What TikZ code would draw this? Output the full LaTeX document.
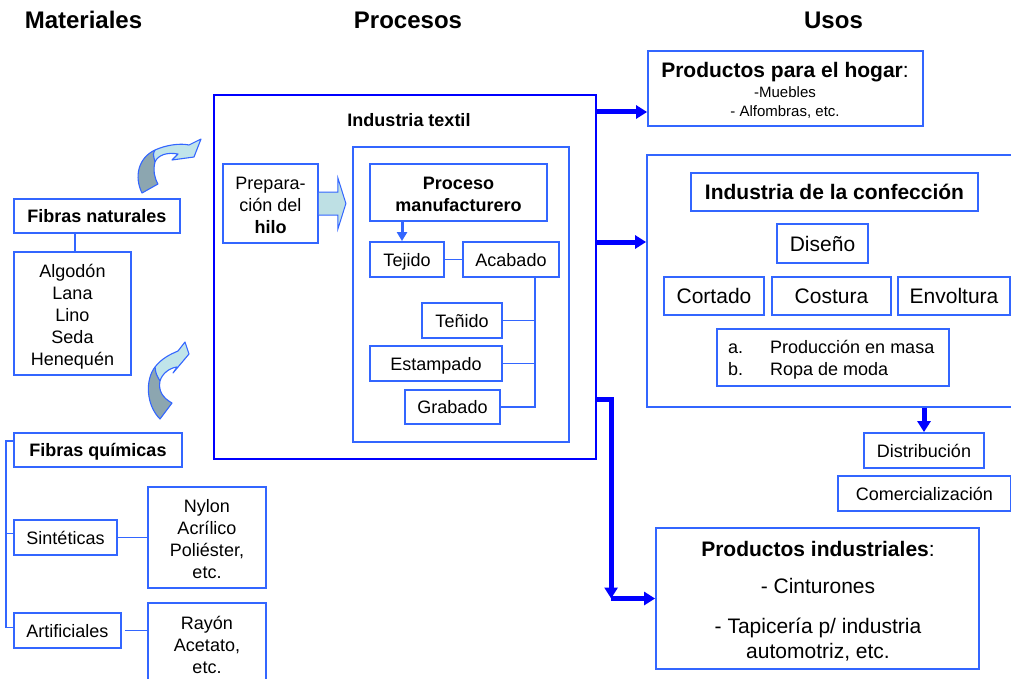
\documentclass[tikz,border=0pt]{standalone}
\usepackage{fontspec}
\setmainfont{Liberation Sans}
\usetikzlibrary{arrows.meta,calc}
\definecolor{bbox}{RGB}{51,102,255}
\definecolor{dblue}{RGB}{0,0,255}
\definecolor{lcyan}{RGB}{192,228,234}
\definecolor{dgray}{RGB}{140,166,176}
\definecolor{acyan}{RGB}{190,224,228}
\newcommand{\myfsa}{\fontsize{18}{22}\selectfont}
\newcommand{\myfsb}{\fontsize{21}{25}\selectfont}
\newcommand{\myfsc}{\fontsize{15}{18}\selectfont}
\newcommand{\myfst}{\fontsize{24}{29}\selectfont}
\def\curveAfull{(142,193) .. controls (134,177) and (138,158) .. (155,150) .. controls (166,145) and (180,143) .. (189,145) -- (201,139) -- (194,157) -- (172,160) -- (178,154) .. controls (167,152) and (158,155) .. (155,162) .. controls (153,170) and (154,177) .. (158,184) -- cycle}
\def\curveAdark{(142,193) .. controls (134,177) and (138,158) .. (155,150) .. controls (153,154) .. (155,162) .. controls (153,170) and (154,177) .. (158,184) -- cycle}
\def\curveBfull{(160,419) .. controls (146,405) and (145,380) .. (155,367) .. controls (162,358) and (171,354) .. (178,351) -- (185,342) -- (189,354) -- (173,373) -- (177,367) .. controls (169,368) and (162,374) .. (160,381) .. controls (158,391) and (163,398) .. (172,403) -- cycle}
\def\curveBdark{(160,419) .. controls (146,405) and (145,380) .. (155,367) .. controls (156,374) .. (160,381) .. controls (158,391) and (163,398) .. (172,403) -- cycle}
\begin{document}
\begin{tikzpicture}[x=1pt,y=-1pt,
  box/.style={draw=bbox, line width=1.8pt, inner sep=0pt, align=center, font=\myfsa},
  sbox/.style={box, text height=18pt, text depth=5pt},
  sboxb/.style={box, font=\myfsb, text height=21pt, text depth=6pt},
  mtxt/.style={inner sep=0pt, align=center, font=\myfsa},
  lnk/.style={draw=bbox, line width=1.8pt},
  thickarrow/.style={draw=dblue, line width=5pt, line join=miter, -{Triangle[length=11pt,width=13pt]}},
  txt/.style={inner sep=0pt, anchor=base},
  title/.style={txt, font=\myfst\bfseries},
  curveout/.style={draw=bbox, line width=1.1pt, line join=round}
]
\useasboundingbox (0,0) rectangle (1011,679);

% titles
\node[title] (tmat) at (83.5,29) {Materiales};
\node[title] (tpro) at (408,29) {Procesos};
\node[title] (tuso) at (833.5,29) {Usos};

% ---------- Materiales ----------
\node[sbox, minimum width=166, minimum height=34] (fnat) at (97,216) {\bfseries Fibras naturales};
\node[box, minimum width=117, minimum height=123] (fnlist) at (72.5,313.5) {};
\node[mtxt] (fnlistt) at ([yshift=-3.5pt]fnlist.center) {Algodón\\Lana\\Lino\\Seda\\Henequén};
\draw[lnk] ([xshift=2.5pt]fnlist.north) -- ([xshift=2.5pt]fnlist.north |- fnat.south);

\node[sbox, minimum width=168, minimum height=34] (fquim) at (98,450) {\bfseries Fibras químicas};
\node[sbox, minimum width=103, minimum height=35] (sint) at (65.5,537.5) {Sintéticas};
\node[sbox, minimum width=107, minimum height=35] (artif) at (67.5,630.5) {Artificiales};
\coordinate (bus) at (6,0);
\draw[lnk] ([yshift=9pt]fquim.west) -- ([yshift=9pt]fquim.west -| bus) -- ([yshift=3pt]artif.west -| bus) -- ([yshift=3pt]artif.west);
\draw[lnk] ([yshift=4pt]sint.west) -- ([yshift=4pt]sint.west -| bus);

\node[box, minimum width=118, minimum height=101] (nylon) at (207,537.5) {};
\node[mtxt] (nylont) at ([yshift=-2pt]nylon.center) {Nylon\\Acrílico\\Poliéster,\\etc.};
\node[box, minimum width=118, minimum height=87] (rayon) at (207,646.5) {};
\node[mtxt] (rayont) at ([yshift=2pt]rayon.center) {Rayón\\Acetato,\\etc.};
\draw[lnk] (sint.east) -- (nylon.west |- sint.east);
\draw[lnk] ([xshift=3pt]artif.east) -- (rayon.west |- artif.east);

% curved arrows
\fill[lcyan] \curveAfull;
\fill[dgray] \curveAdark;
\draw[curveout] \curveAfull;
\draw[curveout] (155,150) .. controls (153,154) .. (155,162);
\fill[lcyan] \curveBfull;
\fill[dgray] \curveBdark;
\draw[curveout] \curveBfull;
\draw[curveout] (155,367) .. controls (156,374) .. (160,381);

% ---------- Procesos ----------
\node[draw=dblue, line width=2.4pt, minimum width=382, minimum height=364, inner sep=0pt] (outer) at (405,277) {};
\node[txt, font=\myfsa\bfseries] (tind) at (409,127) {Industria textil};
\node[box, minimum width=216, minimum height=295] (inner) at (461,294.5) {};
\node[box, minimum width=95, minimum height=79] (prep) at (270.5,203.5) {};
\node[mtxt] (prept) at ([yshift=-2pt]prep.center) {Prepara-\\ción del\\\textbf{hilo}};
\filldraw[fill=acyan, draw=bbox, line width=1pt, line join=miter]
  ($(prep.east)+(0,-11.5)$) -- ++(19,0) -- ++(0,-14) -- ($(prep.east)+(27,0)$)
  -- ($(prep.east)+(19,25.5)$) -- ++(0,-14) -- ($(prep.east)+(0,11.5)$);
\node[box, minimum width=177, minimum height=57] (proc) at (458.5,192.5) {};
\node[mtxt, font=\myfsa\bfseries] (proct) at ([yshift=-2pt]proc.center) {Proceso\\manufacturero};
\node[sbox, minimum width=74, minimum height=35] (tejido) at (407,259.5) {Tejido};
\node[sbox, minimum width=96, minimum height=35] (acabado) at (511,259.5) {Acabado};
\node[sbox, minimum width=80, minimum height=35] (tenido) at (462,320.5) {Teñido};
\node[sbox, minimum width=132, minimum height=35] (estamp) at (436,363.5) {Estampado};
\node[sbox, minimum width=95, minimum height=34] (grabado) at (452.5,407) {Grabado};
\coordinate (sa) at (402,0);
\draw[draw=bbox, line width=3pt, -{Triangle[length=9pt,width=10pt]}] (proc.south -| sa) -- (tejido.north -| sa);
\draw[lnk] (tejido) -- (acabado);
\coordinate (vb) at (535,407);
\draw[lnk] (acabado.south -| vb) -- (vb) -- (grabado.east);
\draw[lnk] (tenido.east) -- (tenido.east -| vb);
\draw[lnk] (estamp.east) -- (estamp.east -| vb);

% ---------- Usos ----------
\node[box, minimum width=275, minimum height=75] (hogar) at (785.5,88.5) {};
\node[txt, font=\myfsb] (hogt) at (785,78) {\textbf{Productos para el hogar}:};
\node[txt, font=\myfsc] (hog1) at (785,98) {-Muebles};
\node[txt, font=\myfsc] (hog2) at (785,117) {- Alfombras, etc.};

\node[draw=bbox, line width=1.8pt, minimum width=373, minimum height=252, inner sep=0pt] (conf) at (833.5,281) {};
\node[sboxb, font=\myfsb\bfseries, minimum width=287, minimum height=38] (indconf) at (834.5,192) {Industria de la confección};
\node[sboxb, minimum width=91, minimum height=39] (diseno) at (822.5,243.5) {Diseño};
\node[sboxb, minimum width=100, minimum height=38] (cortado) at (714,296) {Cortado};
\node[sboxb, minimum width=119, minimum height=38] (costura) at (831.5,296) {Costura};
\node[sboxb, minimum width=112, minimum height=38] (envolt) at (954,296) {Envoltura};
\node[box, minimum width=232, minimum height=57] (abbox) at (833,357.5) {};
\node[txt, anchor=base west, font=\myfsa] (a1) at (728,353) {a.};
\node[txt, anchor=base west, font=\myfsa] (a2) at (770,353) {Producción en masa};
\node[txt, anchor=base west, font=\myfsa] (b1) at (728,375) {b.};
\node[txt, anchor=base west, font=\myfsa] (b2) at (770,375) {Ropa de moda};

\node[sbox, minimum width=120, minimum height=35] (dist) at (924,450.5) {Distribución};
\node[sbox, minimum width=173, minimum height=35] (comerc) at (924.5,493.5) {Comercialización};

\node[box, minimum width=323, minimum height=141] (indus) at (817.5,598.5) {};
\node[txt, font=\myfsb] (it0) at (818,556) {\textbf{Productos industriales}:};
\node[txt, font=\myfsb] (it1) at (818,593) {- Cinturones};
\node[txt, font=\myfsb] (it2) at (818,633) {- Tapicería p/ industria};
\node[txt, font=\myfsb] (it3) at (818,658) {automotriz, etc.};

% thick arrows
\path ([yshift=-23.5pt]hogar.west) coordinate (h1);
\path ([yshift=39pt]conf.west) coordinate (c1);
\draw[thickarrow] (outer.east |- h1) -- (h1);
\draw[thickarrow] (outer.east |- c1) -- (c1);
\path ($(outer.south east)+(0,-61)$) coordinate (k0);
\path ($(indus.west)+(-44,0)$) coordinate (k2);
\draw[thickarrow] (k0) -| (k2);
\draw[thickarrow] (k2) -- (indus.west);
\draw[thickarrow] (conf.south -| dist.north) -- (dist.north);
\end{tikzpicture}
\end{document}
